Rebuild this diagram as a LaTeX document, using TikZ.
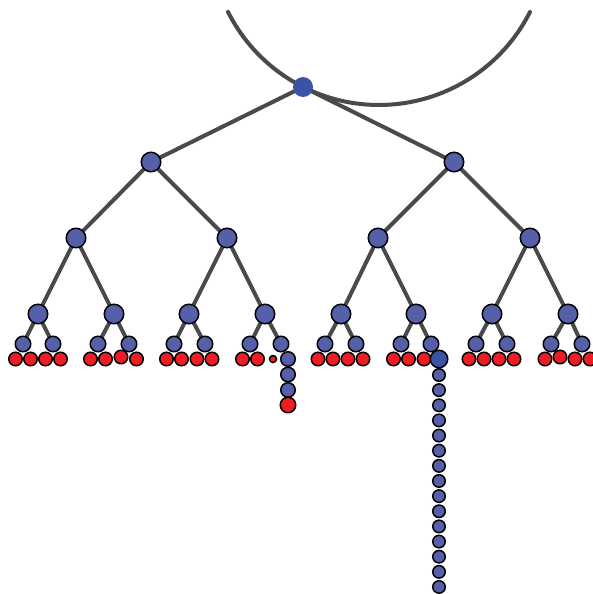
\documentclass[tikz,border=0pt]{standalone}
\definecolor{rootblue}{HTML}{3A53A4}
\definecolor{nodeblue}{HTML}{5560A8}
\definecolor{leafred}{HTML}{EE1C24}
\definecolor{edgegray}{HTML}{4A4A4A}
\begin{document}
\begin{tikzpicture}[x=1pt,y=-1pt,
  rootn/.style={circle,fill=rootblue,inner sep=0pt,minimum size=20pt},
  bign/.style={circle,fill=nodeblue,draw=black,line width=1.5pt,inner sep=0pt,minimum size=19.5pt},
  midn/.style={circle,fill=nodeblue,draw=black,line width=1.5pt,inner sep=0pt,minimum size=15.5pt},
  leafn/.style={circle,fill=leafred,draw=black,line width=1.5pt,inner sep=0pt,minimum size=13.5pt},
  tinyn/.style={circle,fill=leafred,draw=black,line width=1.5pt,inner sep=0pt,minimum size=7pt},
  chainb/.style={circle,fill=nodeblue,draw=black,line width=1.5pt,inner sep=0pt,minimum size=14.5pt},
  chainr/.style={circle,fill=leafred,draw=black,line width=1.5pt,inner sep=0pt,minimum size=15.5pt},
  darkn/.style={circle,fill=rootblue,draw=black,line width=1.5pt,inner sep=0pt,minimum size=17.5pt},
  smalln/.style={circle,fill=nodeblue,draw=black,line width=1.5pt,inner sep=0pt,minimum size=12.5pt},
  edge/.style={draw=edgegray,line width=4pt}]
\useasboundingbox (0,0) rectangle (592,594);
% arc
\draw[edgegray,line width=4pt,line cap=round] plot[domain=26.7:153.3,samples=90] ({379+169*cos(\x)},{-64+169*sin(\x)});
% coordinates for tree
\coordinate (r) at (303,87);
\coordinate (a1) at (151,162); \coordinate (a2) at (454,162);
\coordinate (b1) at (76,238); \coordinate (b2) at (227,238);
\coordinate (b3) at (378,238); \coordinate (b4) at (530,238);
\foreach \i/\x in {1/38,2/114,3/189,4/265,5/341,6/416,7/492,8/568}
  \coordinate (c\i) at (\x,314);
\foreach \i/\x in {1/23,2/53,3/98,4/129,5/174,6/205,7/250,8/281,9/325,10/356,11/401,12/431,13/476,14/507,15/551,16/582}
  \coordinate (d\i) at (\x,344);
% edges
\path[edge] (r) -- (a1) (r) -- (a2)
  (a1) -- (b1) (a1) -- (b2) (a2) -- (b3) (a2) -- (b4)
  (b1) -- (c1) (b1) -- (c2) (b2) -- (c3) (b2) -- (c4)
  (b3) -- (c5) (b3) -- (c6) (b4) -- (c7) (b4) -- (c8);
\foreach \c/\l/\m in {1/1/2,2/3/4,3/5/6,4/7/8,5/9/10,6/11/12,7/13/14,8/15/16}{
  \path[edge] (c\c) -- (d\l) (c\c) -- (d\m);
}
% nodes
\node[rootn] (R) at (r) {};
\foreach \n in {a1,a2,b1,b2,b3,b4,c1,c2,c3,c4,c5,c6,c7,c8}
  \node[bign] (N\n) at (\n) {};
% leaves
\foreach \i/\x/\y in {1/15.5/359,2/30.5/359,3/45.5/359,4/60.5/359,5/90.5/359,6/105.5/359,7/121/357,8/136.5/359,
  9/166.5/359,10/181.5/359,11/197/359,12/212/359,13/242.5/359,14/257.5/359,
  17/318/359,18/333/359,19/348/359,20/363/359,21/393.5/359,22/408.5/359,23/424/359,
  25/469/359,26/484/359,27/499/359,28/514/359,29/545/359,30/560/357,31/575/359,32/590/359}
  \node[leafn] (L\i) at (\x,\y) {};
\node[tinyn] (L15) at (273,359) {};
\node[chainb] (L16) at (288,359) {};
\node[chainb] (p1) at (288,374.5) {};
\node[chainb] (p2) at (288,390) {};
\node[chainr] (p3) at (288,405) {};
\foreach \i in {1,...,16}
  \node[midn] (D\i) at (d\i) {};
\node[darkn] (L24) at (439,359) {};
\foreach \k in {0,...,14}
  \node[smalln] (q\k) at (439,{375+15.14*\k}) {};
\end{tikzpicture}
\end{document}
